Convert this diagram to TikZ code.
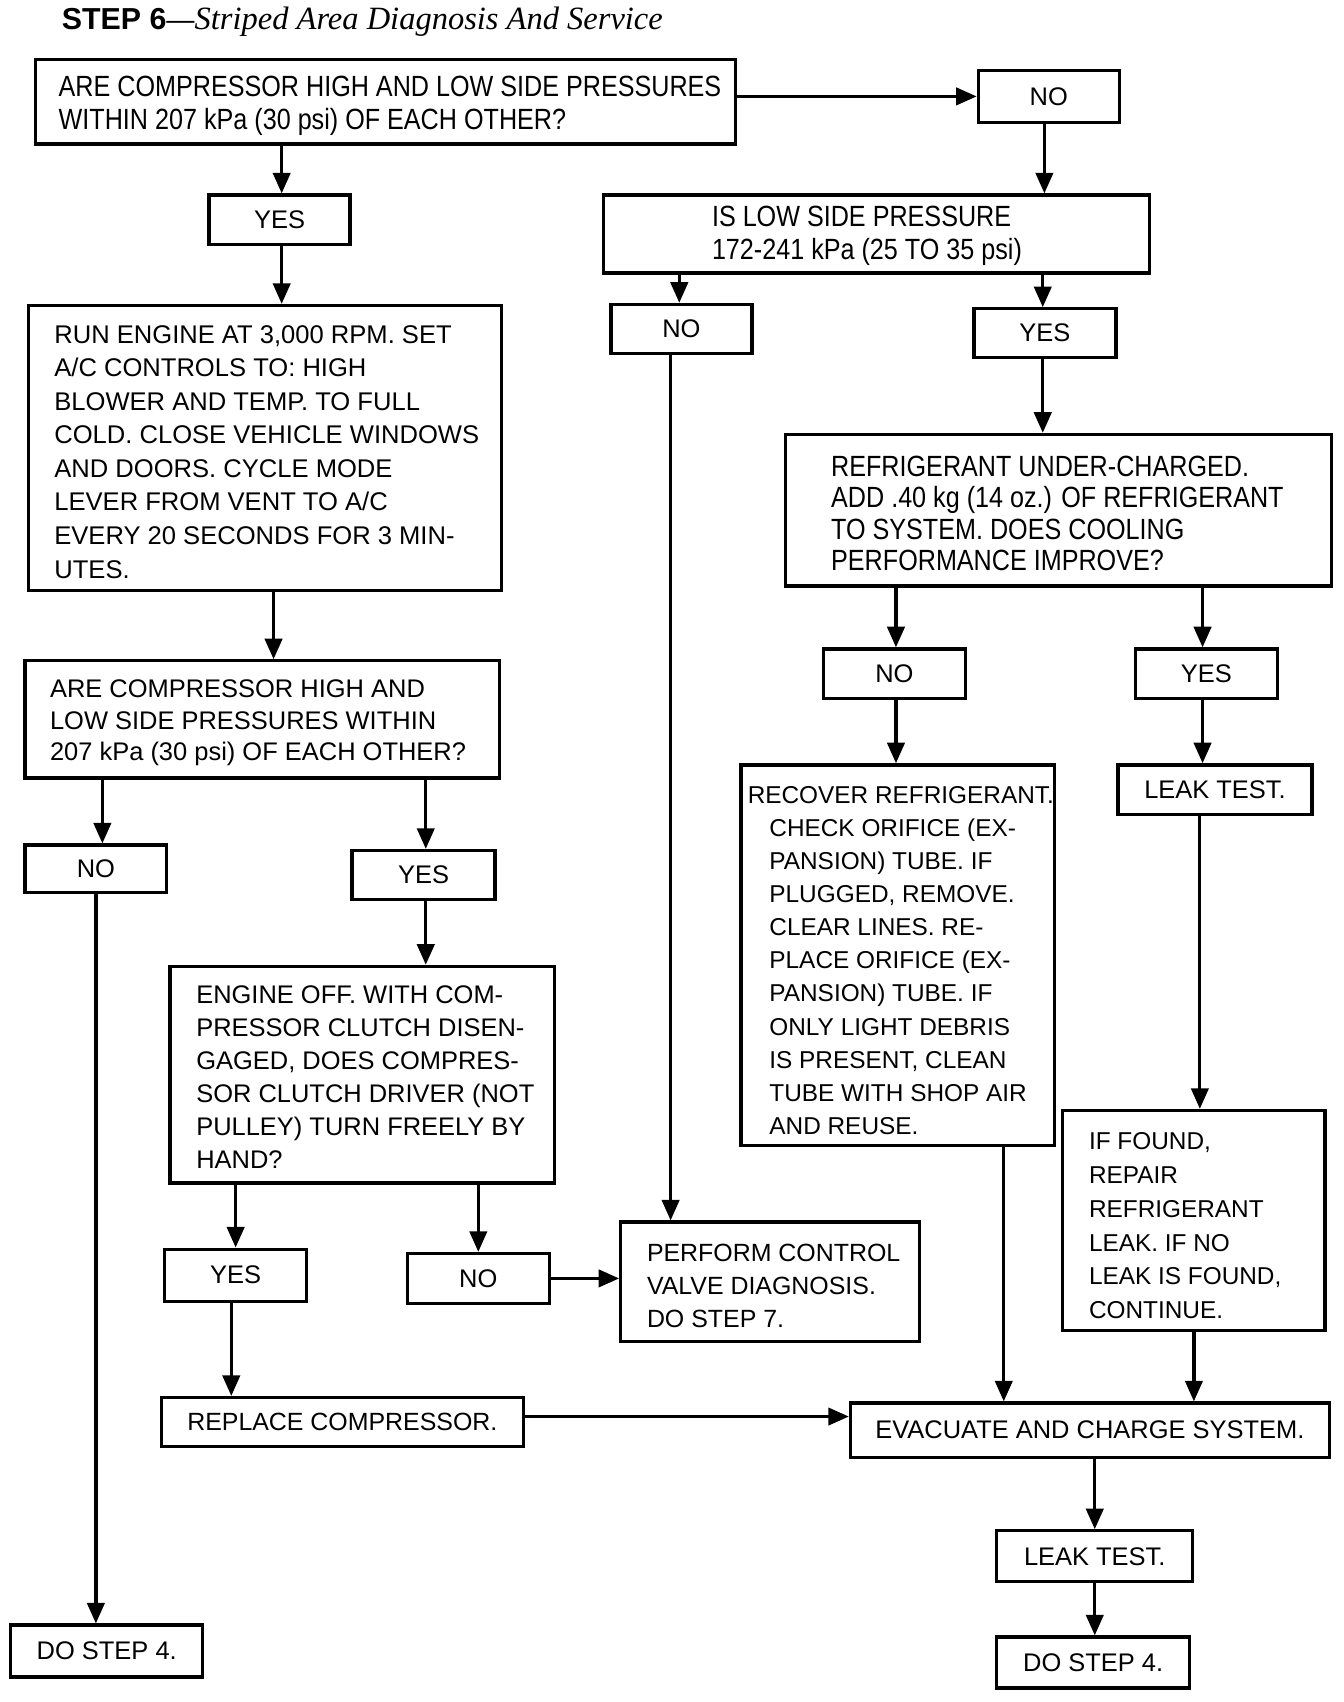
\documentclass[tikz,border=0pt]{standalone}
\usepackage{fontspec}
\setmainfont{Liberation Sans}
\newfontfamily\condfont[FakeStretch=0.86]{Liberation Sans}
\newfontfamily\titleserif{Liberation Serif}
\usetikzlibrary{arrows.meta,calc}
\newcommand\regsize[2]{\fontsize{#1}{#2}\selectfont}
\begin{document}
\begin{tikzpicture}[x=1pt,y=-1pt,
  box/.style={draw, line width=3pt, rectangle, inner sep=0pt, font=\regsize{23.5}{30}},
  txt/.style={anchor=west, align=left, inner sep=0pt},
  arr/.style={line width=3pt, -{Triangle[length=19pt,width=16pt]}}]
\useasboundingbox (0,0) rectangle (1240,1571);
\fill[white] (0,0) rectangle (1240,1571);

% title
\node[anchor=base west, inner sep=0pt] (T) at (57,27)
  {{\bfseries\regsize{28}{30}STEP 6}{\regsize{26}{30}---}{\titleserif\itshape\regsize{30}{30}Striped Area Diagnosis And Service}};

% boxes
\node[box, minimum width=646, minimum height=78] (A) at (356,94) {};
\node[txt, font=\condfont\regsize{27}{30}] (At) at (54,97.5)
  {ARE COMPRESSOR HIGH AND LOW SIDE PRESSURES\\WITHIN 207 kPa (30 psi) OF EACH OTHER?};

\node[box, minimum width=130, minimum height=48] (NO1) at (968,89) {NO};

\node[box, minimum width=504, minimum height=72] (B) at (809,216) {};
\node[txt, font=\condfont\regsize{27}{30}] (Bt) at (657,217.5)
  {IS LOW SIDE PRESSURE\\172-241 kPa (25 TO 35 psi)};

\node[box, minimum width=130, minimum height=46] (YES1) at (258,203) {YES};

\node[box, minimum width=437, minimum height=263] (C) at (244.5,413.5) {};
\node[txt, font=\regsize{23.6}{31}] (Ct) at (50,417)
  {RUN ENGINE AT 3,000 RPM. SET\\A/C CONTROLS TO: HIGH\\BLOWER AND TEMP. TO FULL\\COLD. CLOSE VEHICLE WINDOWS\\AND DOORS. CYCLE MODE\\LEVER FROM VENT TO A/C\\EVERY 20 SECONDS FOR 3 MIN-\\UTES.};

\node[box, minimum width=130, minimum height=45] (NO4) at (629,303.5) {NO};
\node[box, minimum width=131, minimum height=45] (YES4) at (964.5,307.5) {YES};

\node[box, minimum width=504, minimum height=140] (J) at (977,471) {};
\node[txt, font=\condfont\regsize{27}{29}] (Jt) at (767,474)
  {REFRIGERANT UNDER-CHARGED.\\ADD .40 kg (14 oz.) OF REFRIGERANT\\TO SYSTEM. DOES COOLING\\PERFORMANCE IMPROVE?};

\node[box, minimum width=438, minimum height=108] (D) at (242,664) {};
\node[txt, font=\regsize{23.5}{29}] (Dt) at (46,667.5)
  {ARE COMPRESSOR HIGH AND\\LOW SIDE PRESSURES WITHIN\\207 kPa (30 psi) OF EACH OTHER?};

\node[box, minimum width=131, minimum height=46] (NO5) at (825.5,622) {NO};
\node[box, minimum width=131, minimum height=46] (YES5) at (1113.5,622) {YES};

\node[box, minimum width=289, minimum height=351] (K) at (828.5,881.5) {};
\node[txt, font=\regsize{22.5}{30.6}] (Kt) at (710,886.5)
  {\hspace*{-20pt}RECOVER REFRIGERANT.\\CHECK ORIFICE (EX-\\PANSION) TUBE. IF\\PLUGGED, REMOVE.\\CLEAR LINES. RE-\\PLACE ORIFICE (EX-\\PANSION) TUBE. IF\\ONLY LIGHT DEBRIS\\IS PRESENT, CLEAN\\TUBE WITH SHOP AIR\\AND REUSE.};

\node[box, minimum width=179, minimum height=46] (L) at (1121.5,729) {LEAK TEST.};

\node[box, minimum width=131, minimum height=44] (NO2) at (88.5,802) {NO};
\node[box, minimum width=132, minimum height=45] (YES2) at (391,807.5) {YES};

\node[box, minimum width=355, minimum height=200] (E) at (334.5,992) {};
\node[txt, font=\regsize{23.5}{30.4}] (Et) at (181,994.5)
  {ENGINE OFF. WITH COM-\\PRESSOR CLUTCH DISEN-\\GAGED, DOES COMPRES-\\SOR CLUTCH DRIVER (NOT\\PULLEY) TURN FREELY BY\\HAND?};

\node[box, minimum width=242, minimum height=203] (M) at (1102,1126.5) {};
\node[txt, font=\regsize{22.5}{31.2}] (Mt) at (1005,1131.5)
  {IF FOUND,\\REPAIR\\REFRIGERANT\\LEAK. IF NO\\LEAK IS FOUND,\\CONTINUE.};

\node[box, minimum width=276, minimum height=110] (F) at (711,1183) {};
\node[txt, font=\regsize{23}{30.5}] (Ft) at (597,1187)
  {PERFORM CONTROL\\VALVE DIAGNOSIS.\\DO STEP 7.};

\node[box, minimum width=131, minimum height=48] (YES3) at (217.5,1177) {YES};
\node[box, minimum width=131, minimum height=46] (NO3) at (441.5,1180) {NO};

\node[box, minimum width=334, minimum height=45, font=\regsize{23}{30}] (G) at (316,1312.5) {REPLACE COMPRESSOR.};
\node[box, minimum width=442, minimum height=50] (H) at (1006,1320) {EVACUATE AND CHARGE SYSTEM.};

\node[box, minimum width=177, minimum height=48] (I) at (98.5,1524) {DO STEP 4.};
\node[box, minimum width=181, minimum height=47] (N) at (1010.5,1436.5) {LEAK TEST.};
\node[box, minimum width=178, minimum height=47] (O) at (1009,1534.5) {DO STEP 4.};

% connectors
\draw[arr] (A.east |- NO1.west) -- (NO1.west);
\draw[arr] ([xshift=-4]NO1.south) -- ([xshift=-4]NO1.south |- B.north);
\draw[arr] ([xshift=2]YES1.north |- A.south) -- ([xshift=2]YES1.north);
\draw[arr] ([xshift=2]YES1.south) -- ([xshift=2]YES1.south |- C.north);
\draw[arr] ([xshift=8]C.south) -- ([xshift=8]C.south |- D.north);
\draw[arr] ([xshift=6]NO2.north |- D.south) -- ([xshift=6]NO2.north);
\draw[arr] ([xshift=2]YES2.north |- D.south) -- ([xshift=2]YES2.north);
\draw[arr] ([xshift=2]YES2.south) -- ([xshift=2]YES2.south |- E.north);
\draw[arr] (YES3.north |- E.south) -- (YES3.north);
\draw[arr] (NO3.north |- E.south) -- (NO3.north);
\draw[arr] (NO3.east) -- (NO3.east -| F.west);
\draw[arr] ([xshift=-2]NO4.north |- B.south) -- ([xshift=-2]NO4.north);
\draw[arr] ([xshift=-10]NO4.south) -- ([xshift=-10]NO4.south |- F.north);
\draw[arr] ([xshift=-4]YES3.south) -- ([xshift=-4]YES3.south |- G.north);
\draw[arr] ([yshift=5]G.east) -- ([yshift=5]G.east -| H.west);
\draw[arr] (NO2.south) -- (NO2.south |- I.north);
\draw[arr] ([xshift=-2]YES4.north |- B.south) -- ([xshift=-2]YES4.north);
\draw[arr] ([xshift=-2]YES4.south) -- ([xshift=-2]YES4.south |- J.north);
\draw[arr] ([xshift=1.5]NO5.north |- J.south) -- ([xshift=1.5]NO5.north);
\draw[arr] ([xshift=-3.5]YES5.north |- J.south) -- ([xshift=-3.5]YES5.north);
\draw[arr] ([xshift=1.5]NO5.south) -- ([xshift=1.5]NO5.south |- K.north);
\draw[arr] ([xshift=-3.5]YES5.south) -- ([xshift=-3.5]YES5.south |- L.north);
\draw[arr] ([xshift=-14]L.south) -- ([xshift=-14]L.south |- M.north);
\draw[arr] ([xshift=-48]K.south east) -- ([xshift=-48]K.south east |- H.north);
\draw[arr] (M.south) -- (M.south |- H.north);
\draw[arr] (N.north |- H.south) -- (N.north);
\draw[arr] (N.south) -- (N.south |- O.north);
\end{tikzpicture}
\end{document}
